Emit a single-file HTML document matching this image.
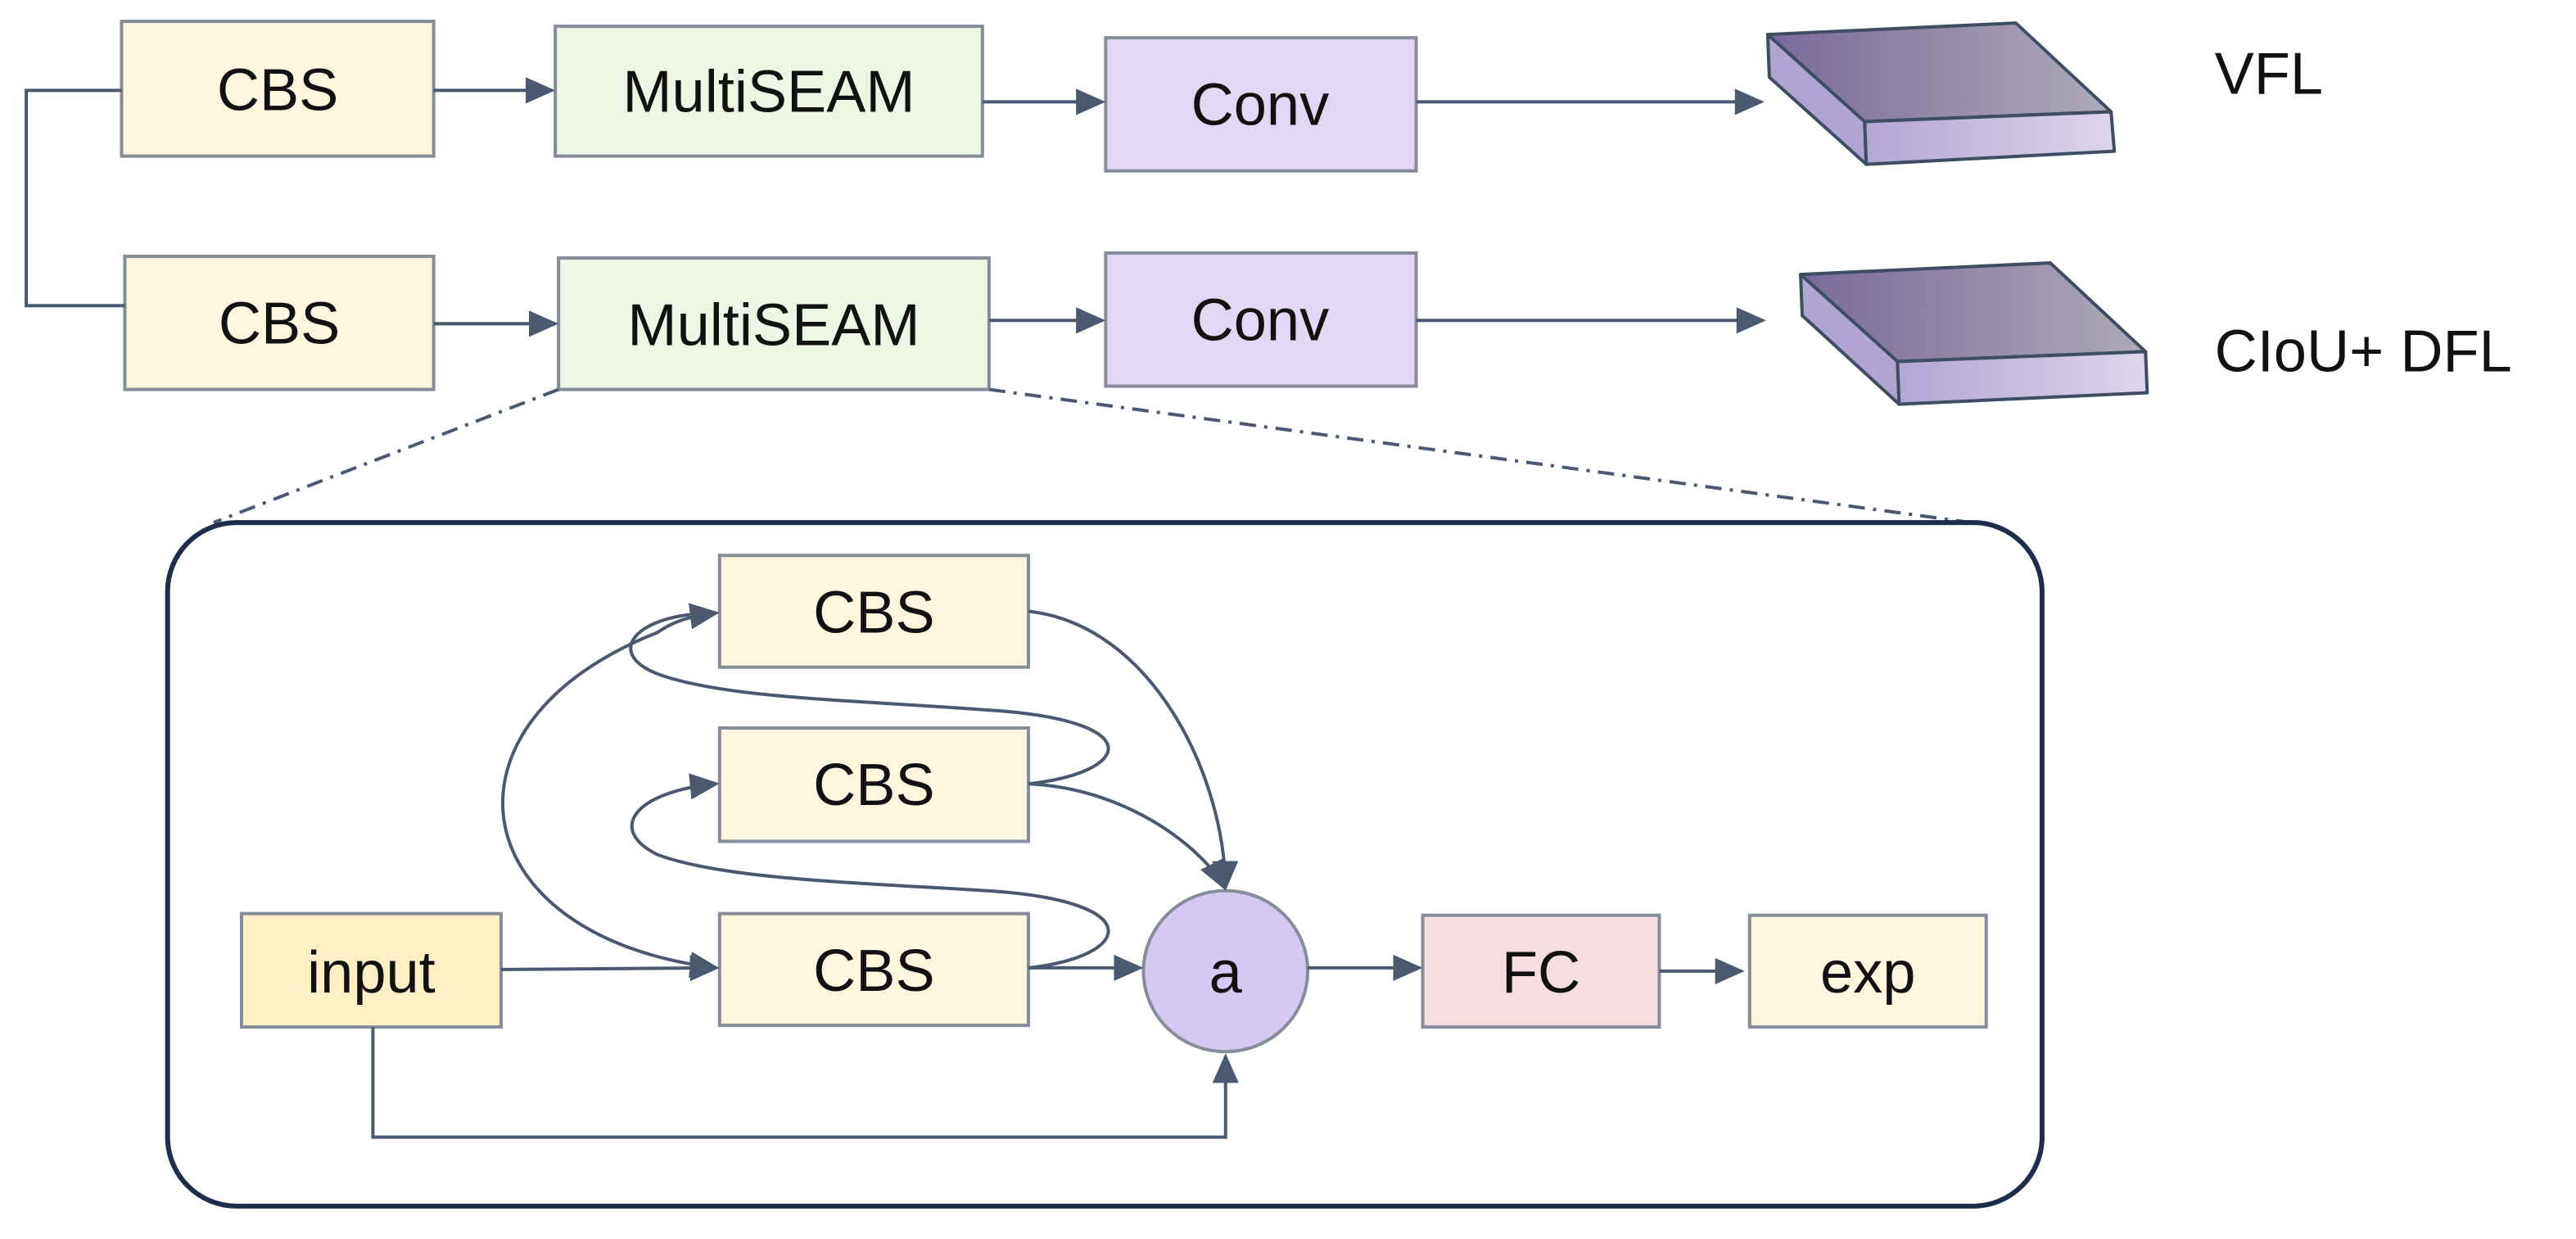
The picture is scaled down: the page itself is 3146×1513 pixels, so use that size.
<!DOCTYPE html>
<html><head><meta charset="utf-8"><style>
html,body{margin:0;padding:0;background:#fff;}
svg{display:block;}
text{font-family:"Liberation Sans","DejaVu Sans",sans-serif;fill:#111;}
</style></head><body>
<svg width="3146" height="1513" viewBox="0 0 1568 754" preserveAspectRatio="none" xmlns="http://www.w3.org/2000/svg">
<defs>
<marker id="ar" markerWidth="10" markerHeight="10" refX="9" refY="5" orient="auto" markerUnits="userSpaceOnUse" viewBox="0 0 10 10">
<path d="M0,0 L10,5 L0,10 L2.5,5 z" fill="#4a5870"/></marker>
<marker id="ar2" markerWidth="18" markerHeight="16" refX="16" refY="8" orient="auto" markerUnits="userSpaceOnUse" viewBox="0 0 18 16">
<path d="M0,0 L18,8 L0,16 z" fill="#4a5870"/></marker>
<linearGradient id="gt" x1="0" x2="1" y1="0" y2="0"><stop offset="0" stop-color="#7a6a9a"/><stop offset="1" stop-color="#aeaab8"/></linearGradient>
<linearGradient id="gf" x1="0" x2="1" y1="0" y2="0"><stop offset="0" stop-color="#b2a6d4"/><stop offset="1" stop-color="#ddd6ec"/></linearGradient>
</defs>
<g stroke="#858d9a" stroke-width="2">
<rect x="74" y="13" width="190" height="82" fill="#fff6de"/>
<rect x="76" y="156" width="188" height="81" fill="#fff6de"/>
<rect x="338" y="16" width="260" height="79" fill="#edf5e4"/>
<rect x="340" y="157" width="262" height="80" fill="#edf5e4"/>
<rect x="673" y="23" width="189" height="81" fill="#e2d8f6"/>
<rect x="673" y="154" width="189" height="81" fill="#e2d8f6"/>
</g>
<g font-size="36" text-anchor="middle">
<text x="169" y="67">CBS</text>
<text x="170" y="209">CBS</text>
<text x="468" y="68">MultiSEAM</text>
<text x="471" y="210">MultiSEAM</text>
<text x="767" y="76">Conv</text>
<text x="767" y="207">Conv</text>
</g>
<g stroke="#4a5870" stroke-width="2" fill="none">
<line x1="264" y1="55" x2="336" y2="55" marker-end="url(#ar2)"/>
<line x1="598" y1="62" x2="671" y2="62" marker-end="url(#ar2)"/>
<line x1="862" y1="62" x2="1072" y2="62" marker-end="url(#ar2)"/>
<line x1="264" y1="197" x2="338" y2="197" marker-end="url(#ar2)"/>
<line x1="602" y1="195" x2="671" y2="195" marker-end="url(#ar2)"/>
<line x1="862" y1="195" x2="1073" y2="195" marker-end="url(#ar2)"/>
<polyline points="74,55 16,55 16,186 76,186"/>
<line x1="340" y1="237" x2="130" y2="318" stroke-dasharray="10,5,2,5"/>
<line x1="602" y1="237" x2="1200" y2="318" stroke-dasharray="10,5,2,5"/>
</g>
<g stroke="#3f4d63" stroke-width="2" stroke-linejoin="round">
<polygon points="1076,21 1227,14 1285,68 1135,74" fill="url(#gt)"/>
<polygon points="1076,21 1135,74 1136,100 1077,47" fill="#b0a4d2"/>
<polygon points="1135,74 1285,68 1287,92 1136,100" fill="url(#gf)"/>
<polygon points="1096,167 1248,160 1306,214 1155,220" fill="url(#gt)"/>
<polygon points="1096,167 1155,220 1156,246 1097,192" fill="#b0a4d2"/>
<polygon points="1155,220 1306,214 1307,239 1156,246" fill="url(#gf)"/>
</g>
<text x="1348" y="57" font-size="36">VFL</text>
<text x="1348" y="226" font-size="36">CIoU+ DFL</text>
<rect x="102" y="318" width="1141" height="416" rx="42" fill="none" stroke="#1f2d4d" stroke-width="3"/>
<g stroke="#858d9a" stroke-width="2">
<rect x="438" y="338" width="188" height="68" fill="#fff6de"/>
<rect x="438" y="443" width="188" height="69" fill="#fff6de"/>
<rect x="438" y="556" width="188" height="68" fill="#fff6de"/>
<rect x="147" y="556" width="158" height="69" fill="#ffefc4"/>
<ellipse cx="746" cy="591" rx="50" ry="49" fill="#d5c8f3"/>
<rect x="866" y="557" width="144" height="68" fill="#f8dde0"/>
<rect x="1065" y="557" width="144" height="68" fill="#fff6de"/>
</g>
<g font-size="36" text-anchor="middle">
<text x="532" y="385">CBS</text>
<text x="532" y="490">CBS</text>
<text x="532" y="603">CBS</text>
<text x="226" y="604">input</text>
<text x="746" y="604">a</text>
<text x="938" y="604">FC</text>
<text x="1137" y="604">exp</text>
</g>
<g stroke="#4a5870" stroke-width="2" fill="none">
<line x1="305" y1="590" x2="436" y2="589" marker-end="url(#ar2)"/>
<line x1="626" y1="589" x2="694" y2="589" marker-end="url(#ar2)"/>
<line x1="796" y1="589" x2="864" y2="589" marker-end="url(#ar2)"/>
<line x1="1010" y1="591" x2="1060" y2="591" marker-end="url(#ar2)"/>
<polyline points="227,625 227,692 746,692 746,643" marker-end="url(#ar2)"/>
<path d="M626,372 C700,380 745,470 746,540" marker-end="url(#ar2)"/>
<path d="M626,477 C690,480 735,520 745,540" marker-end="url(#ar2)"/>
<path d="M400,385 C260,440 280,570 436,589" marker-end="url(#ar2)"/>
<path d="M400,385 C410,378 420,375 436,373" marker-end="url(#ar2)"/>
<path d="M626,477 C690,470 700,438 600,432 C520,426 440,425 400,410 C370,398 385,378 420,374"/>
<path d="M626,589 C690,582 700,548 600,542 C520,537 440,535 400,520 C370,505 385,482 436,477" marker-end="url(#ar2)"/>
</g>
</svg>
</body></html>
